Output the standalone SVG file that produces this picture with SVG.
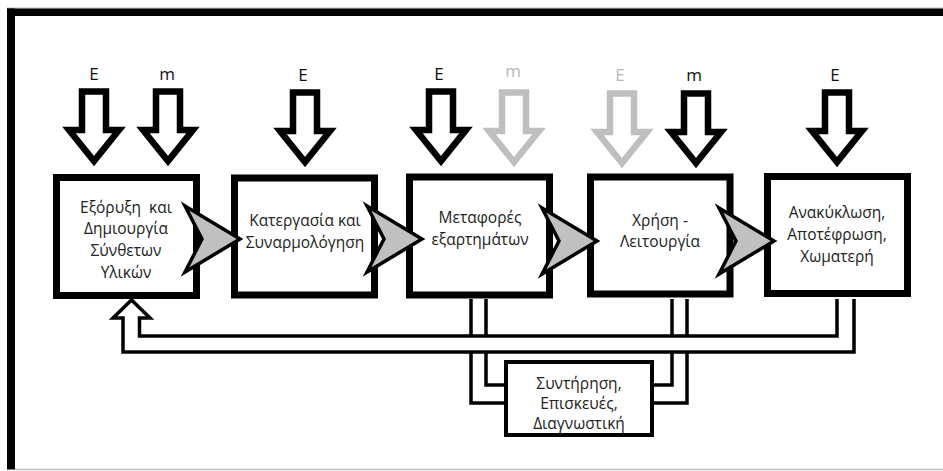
<svg xmlns="http://www.w3.org/2000/svg" width="943" height="471" viewBox="0 0 943 471">
<style>
.box{fill:#fff;stroke:#000;stroke-width:7}
.mbox{fill:#fff;stroke:#000;stroke-width:4}
.t{font-family:"Open Sans","Liberation Sans",sans-serif;font-size:15.5px;fill:#222;text-anchor:middle}
.lbl{font-family:"Open Sans","Liberation Sans",sans-serif;font-size:17px;fill:#111;text-anchor:middle}
.lblg{font-family:"Open Sans","Liberation Sans",sans-serif;font-size:17px;fill:#b8b8b8;text-anchor:middle}
.dn{fill:#fff;stroke:#000;stroke-width:6.5;stroke-linejoin:miter}
.dng{fill:#fff;stroke:#bfbfbf;stroke-width:6.5;stroke-linejoin:miter}
.chev{fill:#c0c0c0;stroke:#000;stroke-width:3.5;stroke-linejoin:miter}
.pipe{fill:none;stroke:#000;stroke-width:3.5;stroke-linejoin:miter}
</style>
<defs>
<path id="down" d="M-12,91.5 H12 V130 H25 L0,161 L-25,130 H-12 Z"/>
<path id="chev" d="M0,206 L55,239 L0,272 L17,239 Z"/>
</defs>
<rect width="943" height="471" fill="#fff"/>
<g id="frame">
<line x1="7" y1="8" x2="943" y2="8" stroke="#bbb" stroke-width="1"/>
<rect x="7" y="8.5" width="936" height="7.5" fill="#000"/>
<rect x="7" y="8.5" width="8" height="461" fill="#000"/>
<line x1="15" y1="469.5" x2="943" y2="469.5" stroke="#bbb" stroke-width="1.5"/>
</g>
<g id="inputs">
<text class="lbl" x="94" y="80">E</text>
<text class="lbl" x="167" y="80">m</text>
<text class="lbl" x="303" y="81">E</text>
<text class="lbl" x="439" y="80">E</text>
<text class="lblg" x="513" y="77">m</text>
<text class="lblg" x="620" y="81">E</text>
<text class="lbl" x="694" y="81">m</text>
<text class="lbl" x="835" y="81">E</text>
<use href="#down" class="dn" transform="translate(94,0)"/>
<use href="#down" class="dn" transform="translate(168,0)"/>
<use href="#down" class="dn" transform="translate(305,1)"/>
<use href="#down" class="dn" transform="translate(441,0)"/>
<use href="#down" class="dng" transform="translate(514,1)"/>
<use href="#down" class="dng" transform="translate(622,2)"/>
<use href="#down" class="dn" transform="translate(696,2)"/>
<use href="#down" class="dn" transform="translate(837,1)"/>
</g>
<g id="connectors">
<path class="pipe" d="M837,299 V336 H139.5 V318 H150 L131.5,300 L113,318 H123 V352 H854 V299"/>
<path class="pipe" d="M471,299 V336 M486,299 V336 M672,299 V336 M687,299 V336"/>
<path class="pipe" d="M486,352 V385 H506 M471,352 V403 H506 M672,352 V385 H652 M687,352 V403 H652"/>
</g>
<g id="n1">
<rect class="box" x="56.5" y="177.5" width="140" height="118"/>
<text class="t" x="126" y="213">Εξόρυξη&#160; και</text>
<text class="t" x="126" y="234">Δημιουργία</text>
<text class="t" x="126" y="256">Σύνθετων</text>
<text class="t" x="126" y="278">Υλικών</text>
</g>
<g id="n2">
<rect class="box" x="234.5" y="178" width="140" height="117"/>
<text class="t" x="305" y="226">Κατεργασία και</text>
<text class="t" x="305" y="248">Συναρμολόγηση</text>
</g>
<g id="n3">
<rect class="box" x="409.5" y="177" width="140" height="118"/>
<text class="t" x="480" y="223">Μεταφορές</text>
<text class="t" x="480" y="245">εξαρτημάτων</text>
</g>
<g id="n4">
<rect class="box" x="590.5" y="177" width="139.5" height="117"/>
<text class="t" x="660" y="226">Χρήση -</text>
<text class="t" x="660" y="247">Λειτουργία</text>
</g>
<g id="n5">
<rect class="box" x="767.5" y="176.5" width="140" height="117"/>
<text class="t" x="837" y="218">Ανακύκλωση,</text>
<text class="t" x="837" y="240">Αποτέφρωση,</text>
<text class="t" x="837" y="262">Χωματερή</text>
</g>
<g id="flow">
<use href="#chev" class="chev" transform="translate(185,0)"/>
<use href="#chev" class="chev" transform="translate(367,0)"/>
<use href="#chev" class="chev" transform="translate(542,2)"/>
<use href="#chev" class="chev" transform="translate(719,2)"/>
</g>
<g id="n6">
<rect class="mbox" x="506" y="362" width="146" height="73"/>
<text class="t" x="579" y="389">Συντήρηση,</text>
<text class="t" x="579" y="409">Επισκευές,</text>
<text class="t" x="579" y="429">Διαγνωστική</text>
</g>
</svg>
